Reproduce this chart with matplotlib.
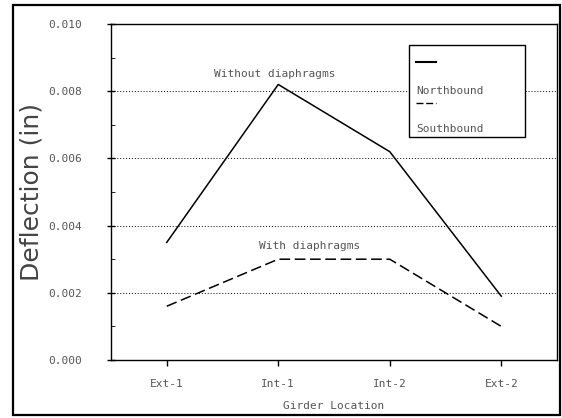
import matplotlib
matplotlib.use("Agg")
import matplotlib.pyplot as plt
from matplotlib.patches import Rectangle
from matplotlib.ticker import MultipleLocator

girders = ["Ext-1", "Int-1", "Int-2", "Ext-2"]
northbound = [0.0035, 0.0082, 0.0062, 0.0019]
southbound = [0.0016, 0.0030, 0.0030, 0.0010]
y_ticks = [0.000, 0.002, 0.004, 0.006, 0.008, 0.010]
y_tick_labels = ["0.000", "0.002", "0.004", "0.006", "0.008", "0.010"]

MONO = "DejaVu Sans Mono"
SMALL = 8
TXT = "#555555"

W, H = 562, 418
fig = plt.figure(figsize=(W / 100, H / 100), dpi=100)
ax = fig.add_axes([111 / W, 1 - 360 / H, (557 - 111) / W, (360 - 24) / H])

x = list(range(len(girders)))
ax.plot(x, northbound, color="black", lw=1.1)
ax.plot(x, southbound, color="black", lw=1.1, dashes=(7, 3))

ax.set_xlim(-0.5, 3.5)
ax.set_ylim(0, 0.010)
ax.set_yticks(y_ticks)
ax.set_yticklabels(y_tick_labels, fontsize=SMALL, family=MONO, color=TXT)
ax.yaxis.set_minor_locator(MultipleLocator(0.001))
ax.set_xticks(x)
ax.set_xticklabels(girders, fontsize=SMALL, family=MONO, color=TXT)
ax.tick_params(axis="y", which="major", direction="inout", length=6, width=1, pad=30)
ax.tick_params(axis="y", which="minor", direction="in", length=3, width=0.6)
ax.tick_params(axis="x", direction="out", length=4, width=1, pad=10)
for lbl in ax.get_yticklabels():
    lbl.set_horizontalalignment("center")

for yv in y_ticks[1:-1]:
    ax.axhline(yv, color="black", lw=0.7, ls=(0, (1, 2)), zorder=0)

for s in ax.spines.values():
    s.set_linewidth(1.0)

ax.set_xlabel("Girder Location", fontsize=SMALL, family=MONO, color=TXT, labelpad=8)
ax.set_ylabel("Deflection (in)", fontsize=18, color="#444444")
ax.yaxis.set_label_coords((44 - 111) / 446, 0.5)

ax.text(0.97, 0.0085, "Without diaphragms", fontsize=SMALL, family=MONO,
        color=TXT, ha="center", va="center")
ax.text(1.28, 0.0034, "With diaphragms", fontsize=SMALL, family=MONO,
        color=TXT, ha="center", va="center")

# legend box drawn in figure pixel space
def fx(px):
    return px / W

def fy(py):
    return 1 - py / H

fig.patches.append(Rectangle((fx(409), fy(137)), fx(525) - fx(409), fy(45) - fy(137),
                             transform=fig.transFigure, facecolor="white",
                             edgecolor="black", lw=1.0, zorder=5))
fig.lines.append(plt.Line2D([fx(416), fx(436)], [fy(62), fy(62)],
                            transform=fig.transFigure, color="black", lw=1.5, zorder=6))
fig.lines.append(plt.Line2D([fx(416), fx(436)], [fy(103), fy(103)],
                            transform=fig.transFigure, color="black", lw=1.0,
                            dashes=(5, 2), zorder=6))
fig.text(fx(416), fy(91), "Northbound", fontsize=SMALL, family=MONO, color=TXT,
         va="center", zorder=6)
fig.text(fx(416), fy(129), "Southbound", fontsize=SMALL, family=MONO, color=TXT,
         va="center", zorder=6)

# outer frame
fig.patches.append(Rectangle((fx(13), fy(415)), fx(560) - fx(13), fy(5) - fy(415),
                             transform=fig.transFigure, facecolor="none",
                             edgecolor="black", lw=1.6, zorder=10))

fig.savefig("out.png", dpi=100)
